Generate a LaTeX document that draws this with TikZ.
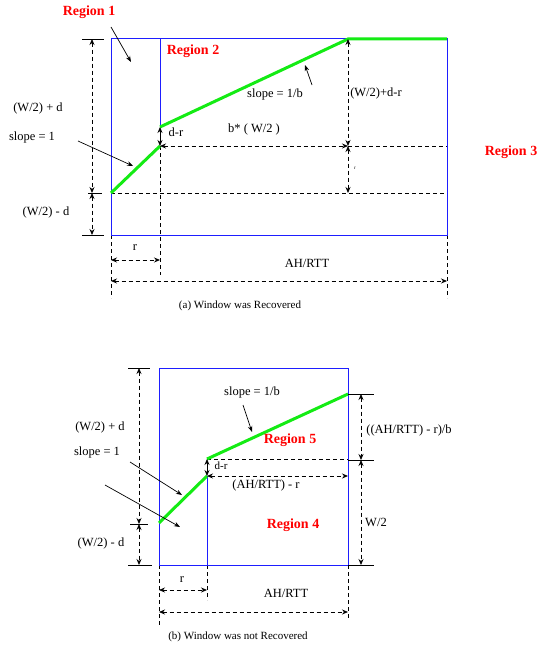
\documentclass[tikz,border=0pt]{standalone}
\usepackage{fontspec}
\setmainfont{Liberation Serif}
\usetikzlibrary{arrows.meta}
\definecolor{rblue}{RGB}{30,30,255}
\definecolor{rgreen}{RGB}{20,235,20}
\definecolor{rred}{RGB}{255,0,0}
\tikzset{
  blueline/.style={draw=rblue,line width=1pt},
  greenline/.style={draw=rgreen,line width=3pt},
  dimarrow/.style={dashed,dash pattern=on 4pt off 3pt,line width=0.8pt,{Stealth[length=6pt,width=5pt]}-{Stealth[length=6pt,width=5pt]}},
  dimline/.style={dash pattern=on 4pt off 3pt,line width=0.8pt},
  solidarrow/.style={line width=0.8pt,{Stealth[length=6pt,width=5pt]}-{Stealth[length=6pt,width=5pt]}},
  tickline/.style={line width=0.8pt},
  pointer/.style={line width=0.7pt,-{Stealth[length=6pt,width=4.5pt]}},
  lab/.style={inner sep=0pt,font=\fontsize{12.5}{14}\selectfont},
  smalllab/.style={inner sep=0pt,font=\fontsize{11}{13}\selectfont},
  tinylab/.style={inner sep=0pt,font=\fontsize{5}{6}\selectfont},
  reg/.style={inner sep=0pt,text=rred,font=\fontsize{14}{16}\selectfont\bfseries},
  captxt/.style={inner sep=0pt,font=\fontsize{11}{13}\selectfont},
}
\begin{document}
\begin{tikzpicture}[x=1pt,y=-1pt]
\useasboundingbox (0,0) rectangle (538,650);
% ================= (a) =================
\coordinate (aTL) at (111,39);
\coordinate (aTR) at (447,39);
\coordinate (aBL) at (111,235);
\coordinate (aBR) at (447,235);
\coordinate (aV0) at (160,39);
\coordinate (g0) at (111,193);
\coordinate (g1) at (160,146);
\coordinate (g2) at (160,127);
\coordinate (g3) at (348,39);
\coordinate (g4) at (447,39);
\coordinate (h1R) at (348,146);
\coordinate (h1E) at (447,146);
\coordinate (h2R) at (348,193);
\coordinate (h2E) at (447,193);
\coordinate (vDn) at (160,275);
\coordinate (lDn) at (111,298);
\coordinate (rDn) at (447,298);
\coordinate (rA) at (111,260);
\coordinate (rB) at (160,260);
\coordinate (ahA) at (111,281);
\coordinate (ahB) at (447,281);
\coordinate (ld0) at (92,39);
\coordinate (ld1) at (92,193);
\coordinate (ld2) at (92,235);

\draw[dimline] (g0) -- (h2E);
\draw[dimline] (h1R) -- (h1E);
\draw[dimline] (g1) -- (vDn);
\draw[dimline] (aBL) -- (lDn);
\draw[dimline] (aBR) -- (rDn);
\draw[blueline] (aTL) rectangle (aBR);
\draw[blueline] (aV0) -- (g2);
\draw[greenline] (g0) -- (g1);
\draw[greenline] (g2) -- (g3) -- (g4);
\draw[solidarrow] (g2) -- (g1);
\draw[dimarrow] (g1) -- (h1R);
\draw[dimarrow] (g3) -- (h1R);
\draw[dimarrow] (h1R) -- (h2R);
\draw[dimarrow] (rA) -- (rB);
\draw[dimarrow] (ahA) -- (ahB);
\draw[dimarrow] (ld0) -- (ld1);
\draw[dimarrow] (ld1) -- (ld2);
\draw[tickline] ([xshift=-10pt]ld0) -- ([xshift=12pt]ld0);
\draw[tickline] ([xshift=-4pt]ld1) -- ([xshift=10pt]ld1);
\draw[tickline] ([xshift=-10pt]ld2) -- ([xshift=12pt]ld2);

\node[reg] (r1) at (89,12) {Region 1};
\node[reg] (r2) at (193,51) {Region 2};
\node[reg] (r3) at (511,152) {Region 3};
\coordinate (r1s) at (111,27);
\coordinate (r1e) at (131,62);
\draw[pointer] (r1s) -- (r1e);
\node[lab] (awpd) at (38,108) {(W/2) + d};
\node[lab] (as1) at (32,137) {slope = 1};
\node[lab] (awmd) at (46,212) {(W/2) - d};
\coordinate (as1s) at (78,141);
\coordinate (as1e) at (133,166);
\draw[pointer] (as1s) -- (as1e);
\node[lab] (asb) at (275,94) {slope = 1/b};
\coordinate (asbs) at (312,85);
\coordinate (asbe) at (305,65);
\draw[pointer] (asbs) -- (asbe);
\node[lab] (awdr) at (376,93) {(W/2)+d-r};
\node[lab] (abw) at (254,129) {b* ( W/2 )};
\node[lab] (adr) at (176,132) {d-r};
\node[tinylab] (atr) at (355,168) {r};
\node[lab] (ar) at (135,248) {r};
\node[lab] (aah) at (307,263) {AH/RTT};
\node[captxt] (capa) at (240,306) {(a) Window was Recovered};

% ================= (b) =================
\coordinate (bTL) at (159,368);
\coordinate (bBR) at (348,565);
\coordinate (bBL) at (159,565);
\coordinate (bV0) at (207,565);
\coordinate (k0) at (159,523);
\coordinate (k1) at (207,476);
\coordinate (k2) at (207,459);
\coordinate (k3) at (348,394);
\coordinate (m1R) at (348,459);
\coordinate (m2R) at (348,476);
\coordinate (bLd) at (159,626);
\coordinate (bMd) at (207,600);
\coordinate (bRd) at (348,620);
\coordinate (brA) at (159,590);
\coordinate (brB) at (207,590);
\coordinate (bahA) at (159,612);
\coordinate (bahB) at (348,612);
\coordinate (bl0) at (139,368);
\coordinate (bl1) at (139,524);
\coordinate (bl2) at (139,565);
\coordinate (br0) at (361,394);
\coordinate (br1) at (361,460);
\coordinate (br2) at (361,565);

\draw[dimline] (k2) -- (m1R);
\draw[dimline] (bBL) -- (bLd);
\draw[dimline] (bV0) -- (bMd);
\draw[dimline] (bBR) -- (bRd);
\draw[blueline] (bTL) rectangle (bBR);
\draw[blueline] (k1) -- (bV0);
\draw[greenline] (k0) -- (k1);
\draw[greenline] (k2) -- (k3);
\draw[solidarrow] (k2) -- (k1);
\draw[dimarrow] (k1) -- (m2R);
\draw[dimarrow] (brA) -- (brB);
\draw[dimarrow] (bahA) -- (bahB);
\draw[dimarrow] (bl0) -- (bl1);
\draw[dimarrow] (bl1) -- (bl2);
\draw[dimarrow] (br0) -- (br1);
\draw[dimarrow] (br1) -- (br2);
\draw[tickline] ([xshift=-11pt]bl0) -- ([xshift=11pt]bl0);
\draw[tickline] ([xshift=-9pt]bl1) -- ([xshift=9pt]bl1);
\draw[tickline] ([xshift=-11pt]bl2) -- ([xshift=13pt]bl2);
\draw[tickline] ([xshift=-13pt]br0) -- ([xshift=13pt]br0);
\draw[tickline] ([xshift=-13pt]br1) -- ([xshift=13pt]br1);
\draw[tickline] ([xshift=-13pt]br2) -- ([xshift=13pt]br2);

\node[lab] (bwpd) at (100,427) {(W/2) + d};
\node[lab] (bs1) at (97,452) {slope = 1};
\node[lab] (bwmd) at (101,543) {(W/2) - d};
\coordinate (bp1s) at (130,462);
\coordinate (bp1e) at (182,495);
\draw[pointer] (bp1s) -- (bp1e);
\coordinate (bp2s) at (105,485);
\coordinate (bp2e) at (180,527);
\draw[pointer] (bp2s) -- (bp2e);
\node[lab] (bsb) at (252,392) {slope = 1/b};
\coordinate (bsbs) at (243,405);
\coordinate (bsbe) at (252,432);
\draw[pointer] (bsbs) -- (bsbe);
\node[reg] (r5) at (290,440) {Region 5};
\node[reg] (r4) at (293,525) {Region 4};
\node[smalllab] (bdr) at (221,466) {d-r};
\node[lab] (bahr) at (266,485) {(AH/RTT) - r};
\node[lab] (bahb) at (409,430) {((AH/RTT) - r)/b};
\node[lab] (bw2) at (376,522) {W/2};
\node[lab] (brr) at (182,580) {r};
\node[lab] (bah) at (286,593) {AH/RTT};
\node[captxt] (capb) at (238,637) {(b) Window was not Recovered};
\end{tikzpicture}
\end{document}
